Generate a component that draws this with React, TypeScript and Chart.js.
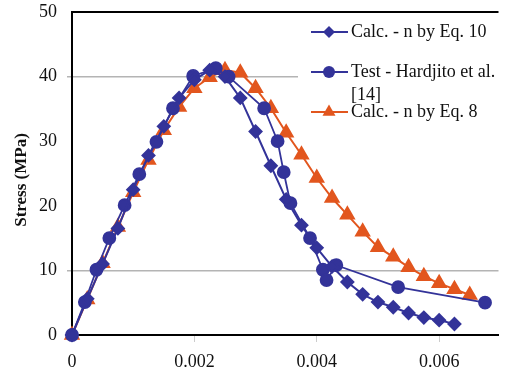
import React, { useEffect, useRef } from "react";
import { Chart, registerables } from "chart.js";

Chart.register(...registerables);

// Calc. - n by Eq. 10 (diamonds)
const strainEq10 = [
  0, 0.00025, 0.0005, 0.00075, 0.001, 0.00125, 0.0015, 0.00175, 0.002, 0.00225,
  0.0025, 0.00275, 0.003, 0.00325, 0.0035, 0.00375, 0.004, 0.00425, 0.0045, 0.00475,
  0.005, 0.00525, 0.0055, 0.00575, 0.006, 0.00625,
];
const stressEq10 = [
  0, 5.6, 11.0, 16.5, 22.5, 27.8, 32.3, 36.7, 39.5, 41.0,
  40.0, 36.7, 31.5, 26.2, 21.0, 17.0, 13.5, 10.6, 8.2, 6.3,
  5.1, 4.3, 3.4, 2.7, 2.3, 1.7,
];

// Test - Hardjito et al. [14] (circles)
const strainTest = [
  0, 0.00021, 0.0004, 0.00061, 0.00086, 0.0011, 0.00138, 0.00165, 0.00198, 0.00235,
  0.00256, 0.00314, 0.00336, 0.00346, 0.00357, 0.00389, 0.0041, 0.00416, 0.00432,
  0.00533, 0.00675,
];
const stressTest = [
  0, 5.1, 10.1, 15.0, 20.1, 24.9, 29.9, 35.1, 40.1, 41.3,
  40.0, 35.1, 30.0, 25.2, 20.4, 15.0, 10.1, 8.5, 10.8,
  7.4, 5.0,
];

// Calc. - n by Eq. 8 (triangles)
const strainEq8 = [
  0, 0.00025, 0.0005, 0.00075, 0.001, 0.00125, 0.0015, 0.00175, 0.002, 0.00225,
  0.0025, 0.00275, 0.003, 0.00325, 0.0035, 0.00375, 0.004, 0.00425, 0.0045, 0.00475,
  0.005, 0.00525, 0.0055, 0.00575, 0.006, 0.00625, 0.0065,
];
const stressEq8 = [
  0, 5.5, 11.1, 16.7, 22.1, 27.1, 31.7, 35.3, 38.2, 39.9,
  41.0, 40.6, 38.2, 35.1, 31.3, 27.9, 24.3, 21.2, 18.6, 16.0,
  13.6, 12.1, 10.5, 9.1, 8.0, 7.1, 6.2,
];

const seriesLabels = ["Calc. - n by Eq. 10", "Test - Hardjito et al. [14]", "Calc. - n by Eq. 8"];
const xTicks = [0, 0.002, 0.004, 0.006];
const yTitle = "Stress (MPa)";

const BLUE = "#333399";
const ORANGE = "#e2561e";
const FONT = "'Liberation Serif', 'Times New Roman', serif";

const toPoints = (xs: number[], ys: number[]) => xs.map((x, i) => ({ x, y: ys[i] }));

const overlay = {
  id: "overlay",
  afterDatasetsDraw(chart: any) {
    const ctx = chart.ctx as CanvasRenderingContext2D;
    const { left, right, top } = chart.chartArea;
    ctx.save();
    // top frame line
    ctx.strokeStyle = "#000";
    ctx.lineWidth = 2;
    ctx.beginPath();
    ctx.moveTo(left - 1, top);
    ctx.lineTo(right, top);
    ctx.stroke();

    // legend box
    ctx.fillStyle = "#fff";
    ctx.fillRect(298, top + 2, 205, 112);

    const drawItem = (y: number, color: string, shape: string) => {
      ctx.strokeStyle = color;
      ctx.fillStyle = color;
      ctx.lineWidth = 2;
      ctx.beginPath();
      ctx.moveTo(311, y);
      ctx.lineTo(348, y);
      ctx.stroke();
      const cx = 329;
      ctx.beginPath();
      if (shape === "diamond") {
        const r = 6;
        ctx.moveTo(cx, y - r);
        ctx.lineTo(cx + r, y);
        ctx.lineTo(cx, y + r);
        ctx.lineTo(cx - r, y);
        ctx.closePath();
      } else if (shape === "circle") {
        ctx.arc(cx, y, 6, 0, Math.PI * 2);
      } else {
        const r = 7.5;
        ctx.moveTo(cx, y - r);
        ctx.lineTo(cx + r * 0.866, y + r * 0.5);
        ctx.lineTo(cx - r * 0.866, y + r * 0.5);
        ctx.closePath();
      }
      ctx.fill();
    };

    ctx.font = `18px ${FONT}`;
    ctx.textBaseline = "middle";
    ctx.textAlign = "left";
    drawItem(32, BLUE, "diamond");
    drawItem(72, BLUE, "circle");
    drawItem(112, ORANGE, "triangle");
    ctx.fillStyle = "#111";
    ctx.fillText(seriesLabels[0], 351, 32);
    ctx.fillText("Test - Hardjito et al.", 351, 72);
    ctx.fillText("[14]", 351, 95);
    ctx.fillText(seriesLabels[2], 351, 112);

    // y-axis title
    ctx.translate(22, 180);
    ctx.rotate(-Math.PI / 2);
    ctx.font = `bold 17px ${FONT}`;
    ctx.textAlign = "center";
    ctx.fillStyle = "#111";
    ctx.fillText(yTitle, 0, 0);
    ctx.restore();
  },
};

export default function App() {
  const ref = useRef<HTMLCanvasElement | null>(null);

  useEffect(() => {
    document.body.style.margin = "0";
    if (!ref.current) return;
    const chart = new Chart(ref.current, {
      type: "scatter",
      data: {
        datasets: [
          {
            label: seriesLabels[0],
            data: toPoints(strainEq10, stressEq10),
            showLine: true,
            borderColor: BLUE,
            backgroundColor: BLUE,
            borderWidth: 2,
            pointStyle: "rectRot",
            pointRadius: 6,
            clip: false,
          },
          {
            label: seriesLabels[1],
            data: toPoints(strainTest, stressTest),
            showLine: true,
            borderColor: BLUE,
            backgroundColor: BLUE,
            borderWidth: 1.8,
            pointStyle: "circle",
            pointRadius: 6,
            clip: false,
          },
          {
            label: seriesLabels[2],
            data: toPoints(strainEq8, stressEq8),
            showLine: true,
            borderColor: ORANGE,
            backgroundColor: ORANGE,
            borderWidth: 2,
            pointStyle: "triangle",
            pointRadius: 7.5,
            clip: false,
          },
        ],
      },
      options: {
        responsive: false,
        animation: false,
        layout: { padding: { top: 12, right: 0, left: 0, bottom: 0 } },
        plugins: {
          legend: { display: false },
          tooltip: { enabled: false },
          title: { display: false },
        },
        scales: {
          x: {
            type: "linear",
            min: 0,
            max: 0.00697,
            afterFit: (s: any) => {
              s.height = 41;
              s.paddingLeft = 0;
              s.paddingRight = 0;
            },
            afterBuildTicks: (s: any) => {
              s.ticks = xTicks.map((v) => ({ value: v }));
            },
            ticks: {
              includeBounds: false,
              padding: 9,
              color: "#111",
              font: { family: FONT, size: 18 },
              maxRotation: 0,
              callback: (v: any) => (Number(v) === 0 ? "0" : Number(v).toFixed(3)),
            },
            grid: {
              drawOnChartArea: false,
              drawTicks: true,
              tickLength: 7,
              tickColor: (c: any) => (c.tick && c.tick.value === 0 ? "rgba(0,0,0,0)" : "#cccccc"),
            },
            border: { color: "#000", width: 2 },
          },
          y: {
            type: "linear",
            min: 0,
            max: 50,
            afterFit: (s: any) => {
              s.width = 72;
              s.paddingTop = 0;
              s.paddingBottom = 0;
            },
            ticks: {
              stepSize: 10,
              padding: 10,
              color: "#111",
              font: { family: FONT, size: 18 },
            },
            grid: {
              tickLength: 5,
              color: (c: any) =>
                c.tick && (c.tick.value === 10 || c.tick.value === 40) ? "#b4b4b4" : "rgba(0,0,0,0)",
              lineWidth: 1.5,
            },
            border: { color: "#000", width: 2 },
          },
        },
      },
      plugins: [overlay],
    });
    return () => chart.destroy();
  }, []);

  return (
    <div style={{ position: "absolute", left: 0, top: 0, width: 508, height: 376 }}>
      <canvas ref={ref} width={508} height={376} style={{ width: 508, height: 376 }} />
    </div>
  );
}
